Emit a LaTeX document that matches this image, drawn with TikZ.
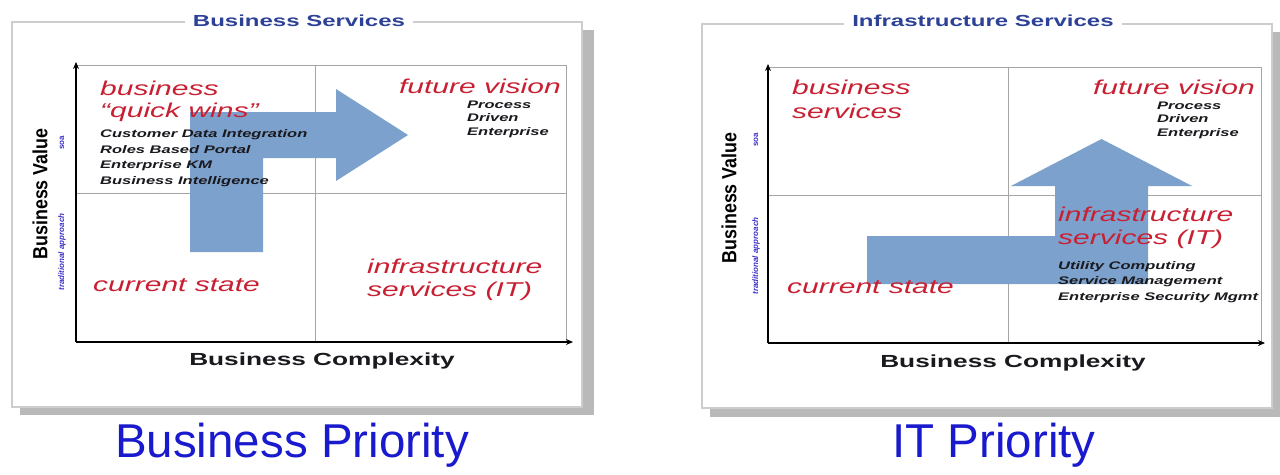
\documentclass[tikz,border=0pt]{standalone}
\usepackage{fontspec}
\setmainfont{Liberation Sans}
\newfontfamily\wf[FakeStretch=1.5]{Liberation Sans}
\newfontfamily\nf[FakeStretch=0.87]{Liberation Sans}
\usetikzlibrary{arrows.meta}
\definecolor{redtxt}{RGB}{200,32,50}
\definecolor{darktxt}{RGB}{25,25,30}
\definecolor{arrowblue}{RGB}{125,161,205}
\definecolor{titleblue}{RGB}{45,65,150}
\definecolor{smallblue}{RGB}{60,50,200}
\definecolor{bigblue}{RGB}{25,25,205}
\definecolor{framegray}{RGB}{205,205,205}
\definecolor{shadowgray}{RGB}{185,185,185}
\definecolor{gridgray}{RGB}{165,165,165}
\tikzset{
  shadowbox/.style={fill=shadowgray, draw=none},
  framebox/.style={draw=framegray, line width=1.5pt, fill=white},
  gridline/.style={draw=gridgray, line width=0.8pt},
  axisline/.style={draw=black, line width=1.8pt, -{Stealth[length=7pt,width=6pt]}},
  bentarrow/.style={fill=arrowblue, draw=none},
  framettl/.style={text=titleblue, fill=white, inner xsep=8pt, inner ysep=1pt,
    font=\wf\bfseries\fontsize{16}{18}\selectfont},
  redlbl/.style={text=redtxt, inner sep=0pt, anchor=base west,
    font=\wf\itshape\fontsize{20}{23}\selectfont},
  redlblr/.style={redlbl, anchor=base east},
  listlbl/.style={text=darktxt, inner sep=0pt, anchor=base west,
    font=\wf\bfseries\itshape\fontsize{11}{13}\selectfont},
  xlbl/.style={text=darktxt, inner sep=0pt, anchor=base,
    font=\wf\bfseries\fontsize{17.5}{19}\selectfont},
  ylbl/.style={text=black, inner sep=0pt, rotate=90,
    font=\nf\bfseries\fontsize{20.5}{22}\selectfont},
  tinylbl/.style={text=smallblue, inner sep=0pt, rotate=90,
    font=\bfseries\itshape\fontsize{8}{9}\selectfont},
  soalbl/.style={text=smallblue, inner sep=0pt, rotate=90,
    font=\bfseries\fontsize{8}{9}\selectfont},
  biglbl/.style={text=bigblue, inner sep=0pt, anchor=base,
    font=\fontsize{47.5}{50}\selectfont},
}
\begin{document}
\begin{tikzpicture}[x=1pt,y=-1pt]
\useasboundingbox (0,0) rectangle (1280,474);

% ================= LEFT PANEL =================
\fill[shadowbox] (20,30) rectangle (594,415);
\draw[framebox] (12,22) rectangle (582,407);
\node[framettl] (lttl) at (299,21) {Business Services};

\coordinate (LO) at (76,342);
\coordinate (LYT) at (76,62);
\coordinate (LXT) at (573,342);
\coordinate (LTL) at (76,65);
\coordinate (LTR) at (566,65);
\coordinate (LBR) at (566,342);
\coordinate (LMT) at (315,65);
\coordinate (LMB) at (315,342);
\coordinate (LML) at (76,193);
\coordinate (LMR) at (566,193);
\draw[gridline] (LTL) -- (LTR) -- (LBR);
\draw[gridline] (LMT) -- (LMB);
\draw[gridline] (LML) -- (LMR);

\fill[bentarrow] (190,252) -- (190,112) -- (336,112) -- (336,89) -- (408,135)
  -- (336,181) -- (336,158) -- (263,158) -- (263,252) -- cycle;

\node[redlbl] (lbq1) at (100,95) {business};
\node[redlbl] (lbq2) at (100,117) {“quick wins”};
\node[listlbl] (ll1) at (100,137) {Customer Data Integration};
\node[listlbl] (ll2) at (100,153) {Roles Based Portal};
\node[listlbl] (ll3) at (100,168.5) {Enterprise KM};
\node[listlbl] (ll4) at (100,184) {Business Intelligence};

\node[redlblr] (lfv) at (561,93) {future vision};
\node[listlbl] (lp1) at (467,108) {Process};
\node[listlbl] (lp2) at (467,121.5) {Driven};
\node[listlbl] (lp3) at (467,135) {Enterprise};

\node[redlbl] (lcs) at (93,291) {current state};
\node[redlbl] (lis1) at (367,273) {infrastructure};
\node[redlbl] (lis2) at (367,296) {services (IT)};

\draw[axisline] (LO) -- (LYT);
\draw[axisline] (LO) -- (LXT);

\node[xlbl] (lxl) at (322,365) {Business Complexity};
\node[ylbl] (lyl) at (40,194) {Business Value};
\node[soalbl] (lsoa) at (62,143) {soa};
\node[tinylbl] (ltra) at (62,252) {traditional approach};

\node[biglbl] (lbig) at (292,457) {Business Priority};

% ================= RIGHT PANEL =================
\fill[shadowbox] (710,32) rectangle (1280,417);
\draw[framebox] (702,24) rectangle (1272,408);
\node[framettl] (rttl) at (983,21) {Infrastructure Services};

\coordinate (RO) at (768,343);
\coordinate (RYT) at (768,64);
\coordinate (RXT) at (1265,343);
\coordinate (RTL) at (768,67);
\coordinate (RTR) at (1261,67);
\coordinate (RBR) at (1261,343);
\coordinate (RMT) at (1008,67);
\coordinate (RMB) at (1008,343);
\coordinate (RML) at (768,195);
\coordinate (RMR) at (1261,195);
\draw[gridline] (RTL) -- (RTR) -- (RBR);
\draw[gridline] (RMT) -- (RMB);
\draw[gridline] (RML) -- (RMR);

\fill[bentarrow] (867,284) -- (867,236) -- (1055,236) -- (1055,186) -- (1011,186)
  -- (1101.5,139) -- (1192,186) -- (1148,186) -- (1148,284) -- cycle;

\node[redlbl] (rbs1) at (792,94) {business};
\node[redlbl] (rbs2) at (792,118) {services};

\node[redlblr] (rfv) at (1255,94) {future vision};
\node[listlbl] (rp1) at (1157,109) {Process};
\node[listlbl] (rp2) at (1157,122.5) {Driven};
\node[listlbl] (rp3) at (1157,136) {Enterprise};

\node[redlbl] (ris1) at (1058,221) {infrastructure};
\node[redlbl] (ris2) at (1058,244) {services (IT)};
\node[listlbl] (rl1) at (1058,269) {Utility Computing};
\node[listlbl] (rl2) at (1058,284.5) {Service Management};
\node[listlbl] (rl3) at (1058,300) {Enterprise Security Mgmt};

\node[redlbl] (rcs) at (787,293) {current state};

\draw[axisline] (RO) -- (RYT);
\draw[axisline] (RO) -- (RXT);

\node[xlbl] (rxl) at (1013,367) {Business Complexity};
\node[ylbl] (ryl) at (729,198) {Business Value};
\node[soalbl] (rsoa) at (756,140) {soa};
\node[tinylbl] (rtra) at (756,256) {traditional approach};

\node[biglbl] (rbig) at (994,457) {IT Priority};
\end{tikzpicture}
\end{document}
